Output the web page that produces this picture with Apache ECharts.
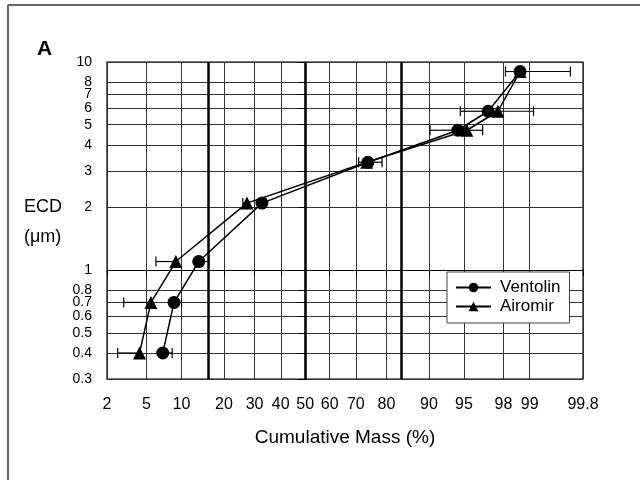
<!DOCTYPE html>
<html>
<head>
<meta charset="utf-8">
<script src="https://cdn.jsdelivr.net/npm/echarts@6/dist/echarts.min.js"></script>
<style>html,body{margin:0;padding:0;background:#fff}#c{width:640px;height:480px}</style>
</head>
<body>
<div id="c"></div>
<script>
// ---- data ----
const ecd = [0.4, 0.7, 1.1, 2.1, 3.3, 4.7, 5.8, 9.0];
const ventolin = [7.0, 8.7, 13.5, 32.7, 74.2, 94.3, 97.1, 98.7];
const airomir = [4.3, 5.5, 9.0, 27.3, 73.8, 95.3, 97.7, 98.7];
const ventolinErrLow  = [7.0, 8.7, 13.5, 32.7, 71.0, 90.2, 94.6, 98.1];
const ventolinErrHigh = [8.4, 10.0, 15.9, 34.2, 78.7, 94.3, 97.1, 99.7];
const airomirErrLow   = [2.6, 3.0, 6.1, 25.9, 73.8, 95.3, 97.7, 98.7];
const airomirErrHigh  = [4.3, 5.5, 9.0, 27.3, 73.8, 96.7, 99.1, 98.7];
const xTicks = [2, 5, 10, 20, 30, 40, 50, 60, 70, 80, 90, 95, 98, 99, 99.8];
const yTicks = [0.3, 0.4, 0.5, 0.6, 0.7, 0.8, 1, 2, 3, 4, 5, 6, 7, 8, 10];
const sigmaLines = [15.87, 50, 84.13];

// inverse normal CDF (Acklam)
function probit(p) {
  const a = [-3.969683028665376e+01, 2.209460984245205e+02, -2.759285104469687e+02, 1.383577518672690e+02, -3.066479806614716e+01, 2.506628277459239e+00];
  const b = [-5.447609879822406e+01, 1.615858368580409e+02, -1.556989798598866e+02, 6.680131188771972e+01, -1.328068155288572e+01];
  const c = [-7.784894002430293e-03, -3.223964580411365e-01, -2.400758277161838e+00, -2.549732539343734e+00, 4.374664141464968e+00, 2.938163982698783e+00];
  const d = [7.784695709041462e-03, 3.224671290700398e-01, 2.445134137142996e+00, 3.754408661907416e+00];
  const pl = 0.02425, ph = 1 - pl;
  let q, r;
  if (p < pl) { q = Math.sqrt(-2 * Math.log(p)); return (((((c[0]*q+c[1])*q+c[2])*q+c[3])*q+c[4])*q+c[5]) / ((((d[0]*q+d[1])*q+d[2])*q+d[3])*q+1); }
  if (p <= ph) { q = p - 0.5; r = q*q; return (((((a[0]*r+a[1])*r+a[2])*r+a[3])*r+a[4])*r+a[5])*q / (((((b[0]*r+b[1])*r+b[2])*r+b[3])*r+b[4])*r+1); }
  q = Math.sqrt(-2 * Math.log(1 - p)); return -(((((c[0]*q+c[1])*q+c[2])*q+c[3])*q+c[4])*q+c[5]) / ((((d[0]*q+d[1])*q+d[2])*q+d[3])*q+1);
}
const zx = p => probit(p / 100);
const ly = v => Math.log10(v);

const xTickVals = xTicks.map(zx);
const yTickVals = yTicks.map(ly);
function nearestLabel(v, vals, labels) {
  let best = 0, bd = Infinity;
  vals.forEach((t, i) => { const d = Math.abs(t - v); if (d < bd) { bd = d; best = i; } });
  return String(labels[best]);
}

const FONT = "'Liberation Sans', Arial, sans-serif";
const errData = [];
ecd.forEach((e, i) => {
  errData.push([ly(e), zx(ventolinErrLow[i]), zx(ventolinErrHigh[i])]);
  errData.push([ly(e), zx(airomirErrLow[i]), zx(airomirErrHigh[i])]);
});

const chart = echarts.init(document.getElementById('c'), null, {renderer: 'canvas'});
chart.setOption({
  animation: false,
  backgroundColor: '#fff',
  textStyle: {fontFamily: FONT},
  grid: {left: 107, right: 57, top: 62, bottom: 101, show: true, borderColor: '#000', borderWidth: 1.2, backgroundColor: 'transparent'},
  xAxis: {
    type: 'value', min: xTickVals[0], max: xTickVals[xTickVals.length - 1],
    name: 'Cumulative Mass (%)', nameLocation: 'middle', nameGap: 49,
    nameTextStyle: {fontSize: 19, color: '#000', fontFamily: FONT},
    axisLine: {show: true, lineStyle: {color: '#000', width: 1.2}},
    axisTick: {show: true, customValues: xTickVals, length: 6, lineStyle: {color: '#000'}},
    axisLabel: {customValues: xTickVals, margin: 18, fontSize: 16, color: '#000', fontFamily: FONT,
      formatter: v => nearestLabel(v, xTickVals, xTicks)},
    splitLine: {show: true, lineStyle: {color: '#333', width: 1}}
  },
  yAxis: {
    type: 'value', min: yTickVals[0], max: yTickVals[yTickVals.length - 1],
    axisLine: {show: true, lineStyle: {color: '#000', width: 1.2}},
    axisTick: {show: true, customValues: yTickVals, length: 7, lineStyle: {color: '#000'}},
    axisLabel: {customValues: yTickVals, margin: 15, fontSize: 14, color: '#000', fontFamily: FONT,
      formatter: v => nearestLabel(v, yTickVals, yTicks)},
    splitLine: {show: true, lineStyle: {color: '#333', width: 1}}
  },
  legend: {
    left: 447, top: 272, orient: 'vertical',
    backgroundColor: '#fff', borderColor: '#444', borderWidth: 1,
    padding: [7, 9, 8, 8], itemWidth: 35, itemHeight: 12, itemGap: 2,
    textStyle: {fontSize: 17, color: '#000', fontFamily: FONT, padding: [0, 0, 0, 4]},
    data: ['Ventolin', 'Airomir']
  },
  graphic: [
    {type: 'line', shape: {x1: 8, y1: 5, x2: 8, y2: 480}, style: {stroke: '#666', lineWidth: 2}},
    {type: 'line', shape: {x1: 8, y1: 5, x2: 640, y2: 5}, style: {stroke: '#666', lineWidth: 2}},
    {type: 'text', left: 37, top: 39, style: {text: 'A', font: "bold 21px " + FONT, fill: '#000'}},
    {type: 'text', left: 24, top: 198, style: {text: 'ECD', font: "18px " + FONT, fill: '#000'}},
    {type: 'text', left: 24, top: 228, style: {text: '(\u03bcm)', font: "18px " + FONT, fill: '#000'}}
  ],
  series: [
    {
      type: 'custom', name: 'err', silent: true, z: 1,
      data: errData,
      renderItem: (params, api) => {
        const y = api.value(0);
        const p1 = api.coord([api.value(1), y]);
        const p2 = api.coord([api.value(2), y]);
        const st = {stroke: '#000', lineWidth: 1.2};
        return {type: 'group', children: [
          {type: 'line', shape: {x1: p1[0], y1: p1[1], x2: p2[0], y2: p2[1]}, style: st},
          {type: 'line', shape: {x1: p1[0], y1: p1[1] - 5, x2: p1[0], y2: p1[1] + 5}, style: st},
          {type: 'line', shape: {x1: p2[0], y1: p2[1] - 5, x2: p2[0], y2: p2[1] + 5}, style: st}
        ]};
      },
      markLine: {
        silent: true, symbol: 'none', label: {show: false},
        lineStyle: {color: '#000', width: 2.5, type: 'solid'},
        data: sigmaLines.map(p => ({xAxis: zx(p)}))
      }
    },
    {
      type: 'line', name: 'Ventolin', z: 3,
      data: ecd.map((e, i) => [zx(ventolin[i]), ly(e)]),
      symbol: 'circle', symbolSize: 13, showAllSymbol: true,
      lineStyle: {color: '#000', width: 1.5}, itemStyle: {color: '#000'}
    },
    {
      type: 'line', name: 'Airomir', z: 2,
      data: ecd.map((e, i) => [zx(airomir[i]), ly(e)]),
      symbol: 'triangle', symbolSize: 13, showAllSymbol: true,
      lineStyle: {color: '#000', width: 1.5}, itemStyle: {color: '#000'}
    }
  ]
});
</script>
</body>
</html>
